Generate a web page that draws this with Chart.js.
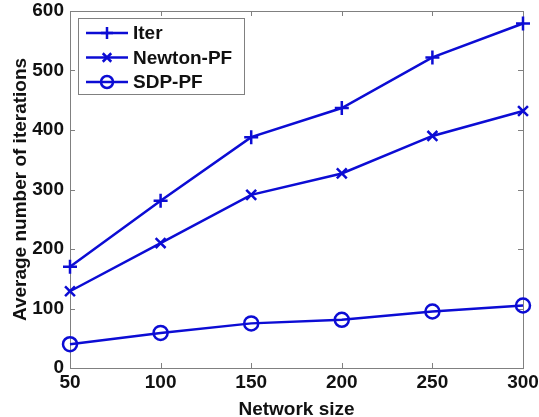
<!DOCTYPE html>
<html>
<head>
<meta charset="utf-8">
<script src="https://cdn.jsdelivr.net/npm/chart.js@4.4.1/dist/chart.umd.min.js"></script>
<style>
  html, body { margin: 0; padding: 0; background: #fff; }
</style>
</head>
<body>
<canvas id="itersChart" width="539" height="417"></canvas>
<script>
// network sizes on the x axis
var networkSizes = [50, 100, 150, 200, 250, 300];

// average number of iterations for each method
var iterValues = [170, 281, 388, 437, 522, 579];
var newtonValues = [129, 210, 291, 327, 390, 432];
var sdpValues = [40, 59, 75, 81, 95, 105];

var seriesNames = ['Iter', 'Newton-PF', 'SDP-PF'];
var markerStyles = ['cross', 'crossRot', 'circle'];

var xTicks = [50, 100, 150, 200, 250, 300];
var yTicks = [0, 100, 200, 300, 400, 500, 600];

var lineColor = '#0c0cd4';
var axisColor = '#808080';
var fontFamily = '"Liberation Sans", Arial, sans-serif';

function toPoints(values) {
    return values.map(function (v, i) { return { x: networkSizes[i], y: v }; });
}

var allValues = [iterValues, newtonValues, sdpValues];

var datasets = allValues.map(function (vals, i) {
    return {
        label: seriesNames[i],
        data: toPoints(vals),
        borderColor: lineColor,
        backgroundColor: 'transparent',
        borderWidth: 2.5,
        pointStyle: markerStyles[i],
        pointRadius: 7,
        pointBorderWidth: 2.5,
        pointBorderColor: lineColor,
        pointBackgroundColor: 'transparent',
        fill: false,
        tension: 0,
        clip: false
    };
});

// box round the plot area plus inward tick marks (matlab look)
var boxPlugin = {
    id: 'boxTicks',
    beforeDatasetsDraw: function (chart) {
        var ctx = chart.ctx;
        var a = chart.chartArea;
        var xs = chart.scales.x, ys = chart.scales.y;
        ctx.save();
        ctx.strokeStyle = axisColor;
        ctx.lineWidth = 1;
        ctx.strokeRect(a.left + 0.5, a.top + 0.5, a.right - a.left, a.bottom - a.top);
        ctx.beginPath();
        xTicks.forEach(function (t) {
            var px = Math.round(xs.getPixelForValue(t)) + 0.5;
            ctx.moveTo(px, a.bottom); ctx.lineTo(px, a.bottom - 5);
            ctx.moveTo(px, a.top); ctx.lineTo(px, a.top + 5);
        });
        yTicks.forEach(function (t) {
            var py = Math.round(ys.getPixelForValue(t)) + 0.5;
            ctx.moveTo(a.left, py); ctx.lineTo(a.left + 5, py);
            ctx.moveTo(a.right, py); ctx.lineTo(a.right - 5, py);
        });
        ctx.stroke();
        ctx.restore();
    }
};

// legend drawn inside the axes, top left
var legendPlugin = {
    id: 'insideLegend',
    afterDraw: function (chart) {
        var ctx = chart.ctx;
        var a = chart.chartArea;
        var bx = a.left + 8, by = a.top + 7, bw = 166, bh = 76;
        ctx.save();
        ctx.fillStyle = '#fff';
        ctx.fillRect(bx, by, bw, bh);
        ctx.strokeStyle = axisColor;
        ctx.lineWidth = 1;
        ctx.strokeRect(bx + 0.5, by + 0.5, bw, bh);
        ctx.font = 'bold 19px ' + fontFamily;
        ctx.textBaseline = 'middle';
        seriesNames.forEach(function (name, i) {
            var cy = by + 15 + i * 24.5;
            ctx.strokeStyle = lineColor;
            ctx.lineWidth = 2.5;
            ctx.beginPath();
            ctx.moveTo(bx + 8, cy); ctx.lineTo(bx + 50, cy);
            ctx.stroke();
            ctx.fillStyle = 'rgba(0,0,0,0)';
            Chart.helpers.drawPoint(ctx, { pointStyle: markerStyles[i], radius: 6, borderWidth: 2.5 }, bx + 29, cy);
            ctx.fillStyle = '#111';
            ctx.fillText(name, bx + 55, cy + 1);
        });
        ctx.restore();
    }
};

var ctx = document.getElementById('itersChart').getContext('2d');
new Chart(ctx, {
    type: 'line',
    data: { datasets: datasets },
    plugins: [boxPlugin, legendPlugin],
    options: {
        responsive: false,
        animation: false,
        devicePixelRatio: 1,
        layout: { padding: { left: 4, right: 16, top: 11, bottom: 0 } },
        plugins: { legend: { display: false }, tooltip: { enabled: false } },
        scales: {
            x: {
                type: 'linear',
                min: 50, max: 300,
                border: { display: false },
                grid: { display: false, drawTicks: false },
                afterBuildTicks: function (s) { s.ticks = xTicks.map(function (v) { return { value: v }; }); },
                afterFit: function (s) { s.height = 49; s.paddingLeft = 0; s.paddingRight = 0; },
                ticks: { color: '#111', padding: 3, maxRotation: 0, font: { family: fontFamily, size: 19, weight: 'bold' } },
                title: { display: true, text: 'Network size', color: '#111', padding: { top: -4, bottom: -4 }, font: { family: fontFamily, size: 19, weight: 'bold' } }
            },
            y: {
                min: 0, max: 600,
                border: { display: false },
                grid: { display: false, drawTicks: false },
                afterBuildTicks: function (s) { s.ticks = yTicks.map(function (v) { return { value: v }; }); },
                afterFit: function (s) { s.width = 66; s.paddingTop = 0; s.paddingBottom = 0; },
                ticks: { color: '#111', padding: 6, font: { family: fontFamily, size: 19, weight: 'bold' } },
                title: { display: true, text: 'Average number of iterations', color: '#111', padding: { top: 5, bottom: 5 }, font: { family: fontFamily, size: 19, weight: 'bold' } }
            }
        }
    }
});
</script>
</body>
</html>
